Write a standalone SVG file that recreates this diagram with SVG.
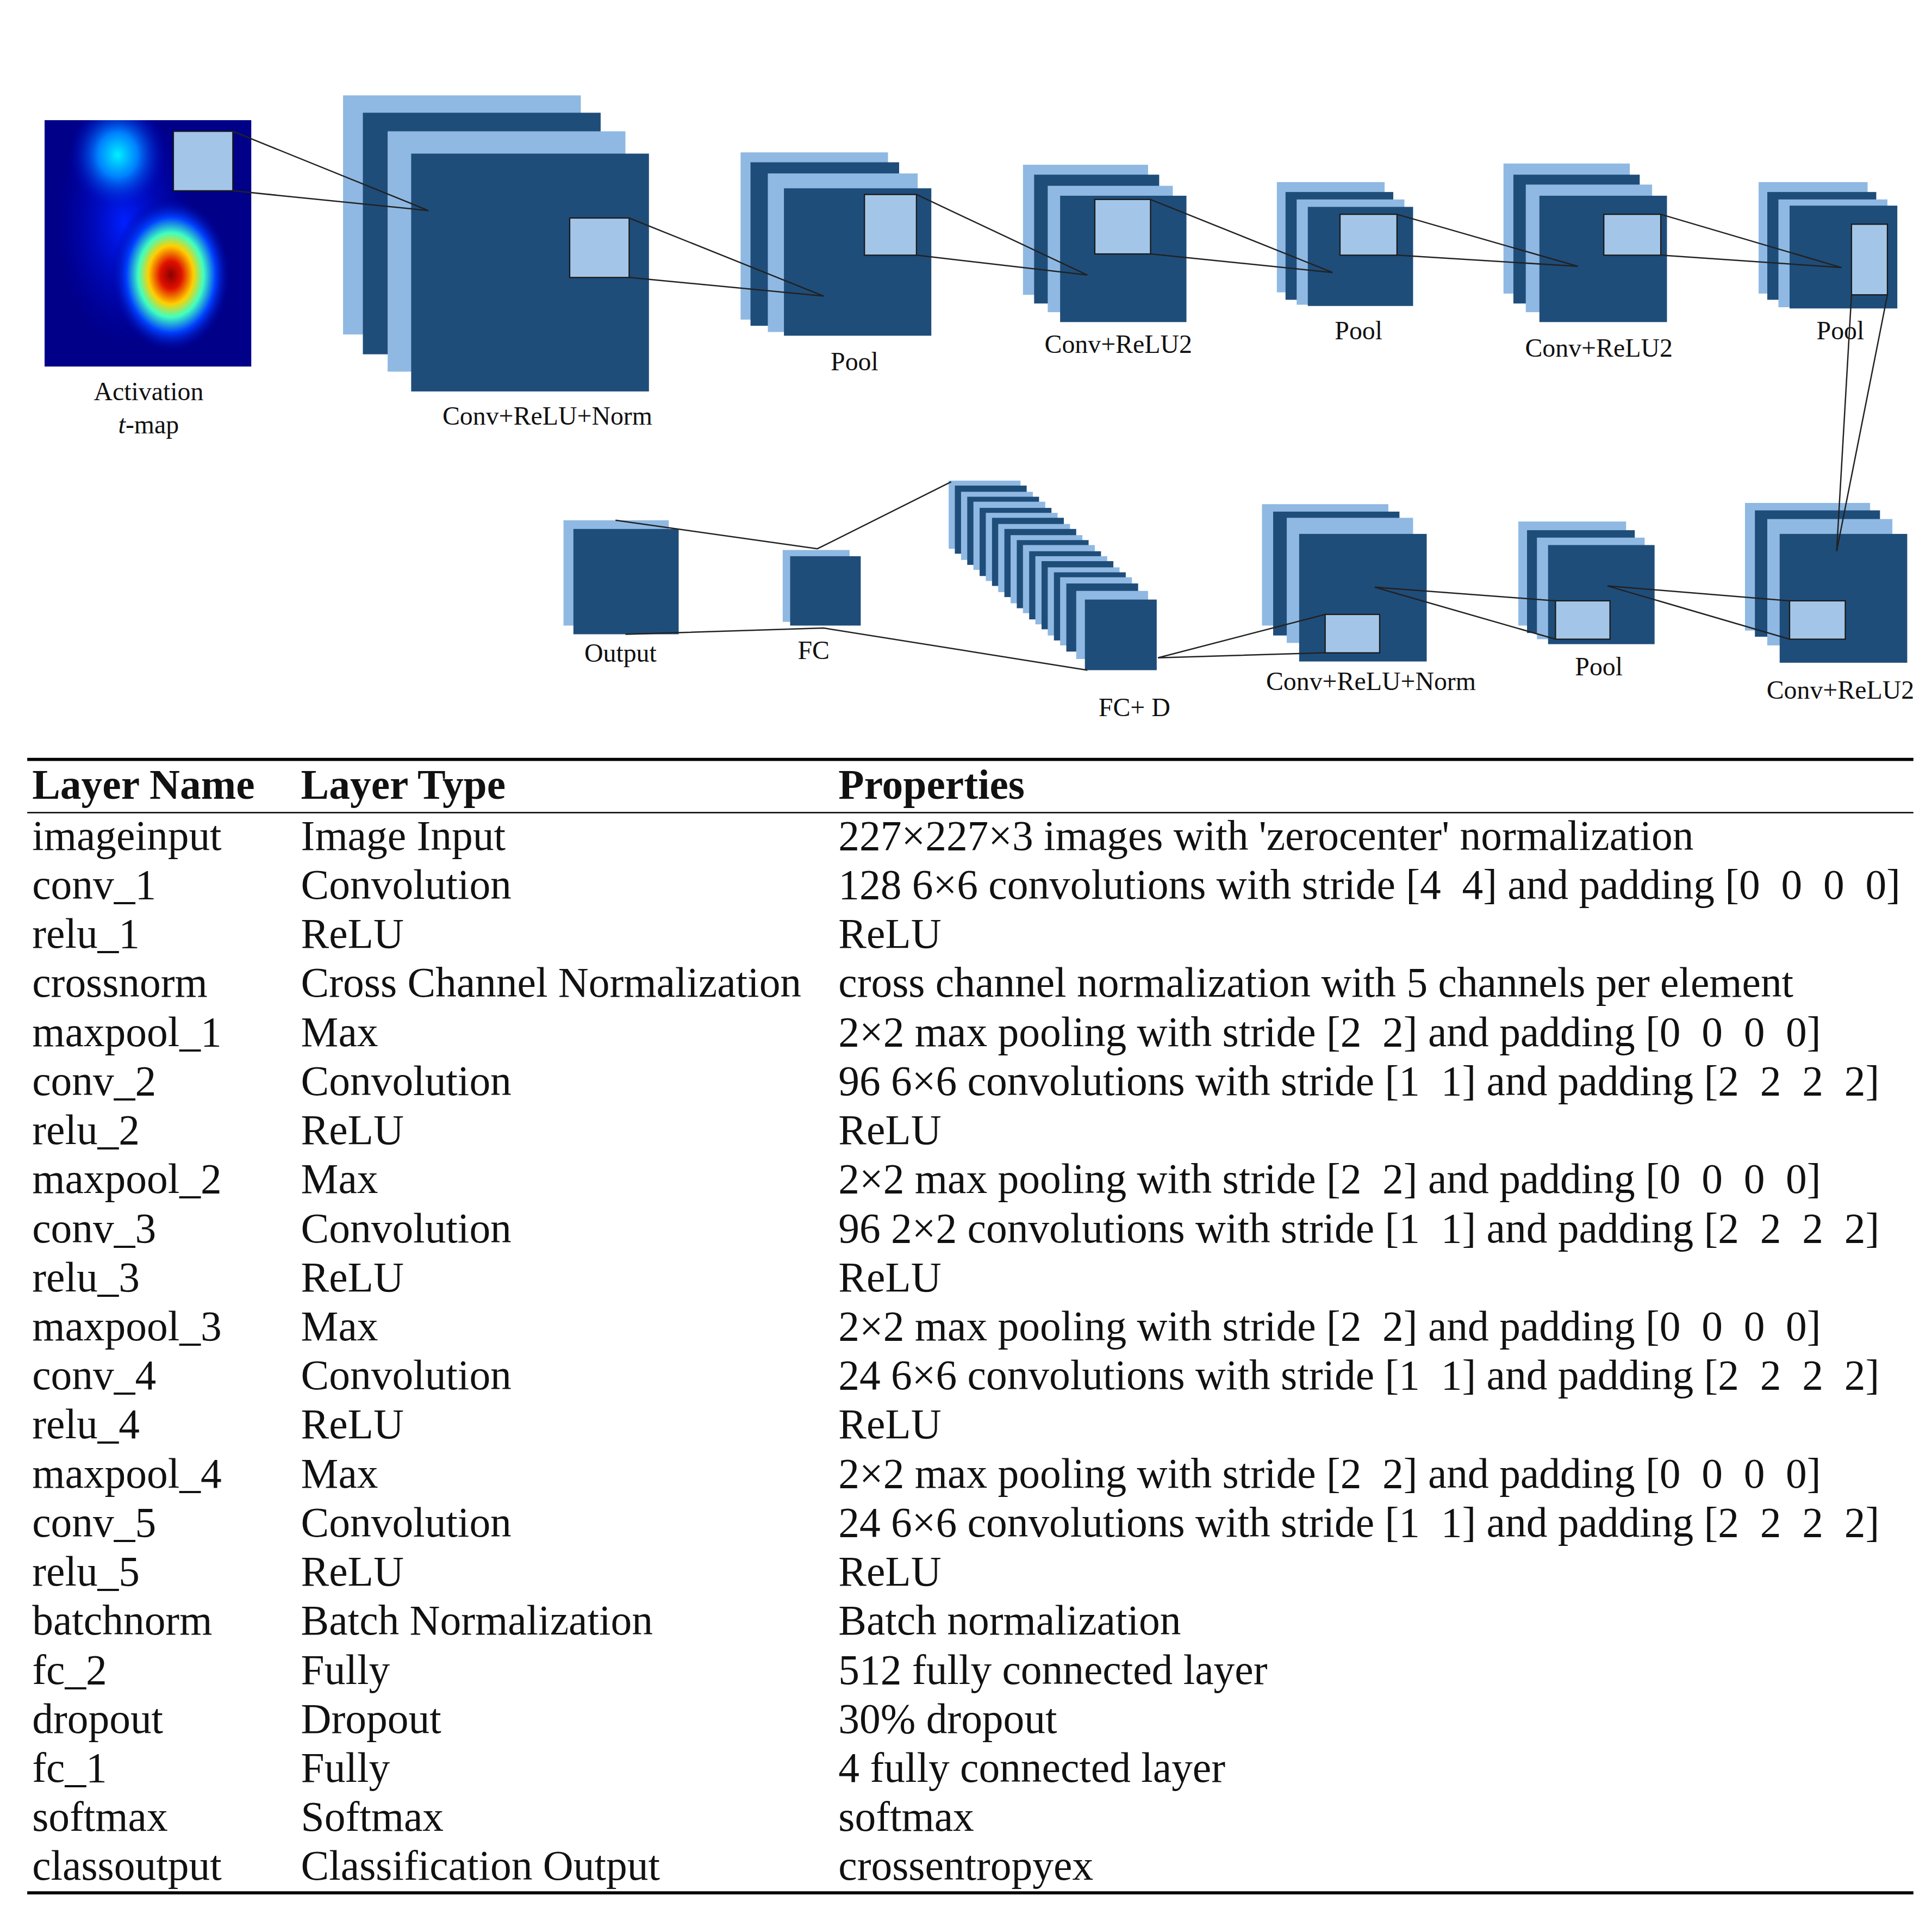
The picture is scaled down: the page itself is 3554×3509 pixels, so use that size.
<svg xmlns="http://www.w3.org/2000/svg" width="3554" height="3509" viewBox="0 0 3554 3509">
<style>
.l{fill:#8fb9e2}.d{fill:#1f4d7a}.sq{fill:#a3c6e8;stroke:#1a1a1a;stroke-width:1}
.c line,.c polyline{stroke:#222;stroke-width:1.1;fill:none}
.lb{font-family:"Liberation Serif",serif;font-size:21px;text-anchor:middle;fill:#111}
.t{font-family:"Liberation Serif",serif;font-size:34px;fill:#111;white-space:pre}
.h{font-weight:bold}
</style>
<defs>
<radialGradient id="hot" cx="0.5" cy="0.5" r="0.5">
<stop offset="0" stop-color="#8b0000"/><stop offset="0.18" stop-color="#e01000"/><stop offset="0.38" stop-color="#ffd000"/><stop offset="0.55" stop-color="#40ffc0"/><stop offset="0.75" stop-color="#0040ff"/><stop offset="1" stop-color="#0000a0" stop-opacity="0"/>
</radialGradient>
<radialGradient id="cy" cx="0.5" cy="0.5" r="0.5">
<stop offset="0" stop-color="#00f0ff"/><stop offset="0.4" stop-color="#0080ff"/><stop offset="1" stop-color="#0000c0" stop-opacity="0"/>
</radialGradient>
<radialGradient id="bl" cx="0.5" cy="0.5" r="0.5">
<stop offset="0" stop-color="#0020ff"/><stop offset="1" stop-color="#0000c0" stop-opacity="0"/>
</radialGradient>
<clipPath id="hm"><rect x="36" y="97" width="167" height="199"/></clipPath>
</defs>
<rect width="3554" height="3509" fill="#fff"/>
<g transform="scale(2.2782)">
<g id="tmap">
<g clip-path="url(#hm)">
<rect x="36" y="97" width="167" height="199" fill="#000088"/>
<ellipse cx="100" cy="180" rx="55" ry="100" fill="url(#bl)"/>
<ellipse cx="95" cy="125" rx="40" ry="45" fill="url(#cy)"/>
<ellipse cx="138" cy="222" rx="48" ry="62" fill="url(#hot)"/>
</g>
<rect class="sq" x="140" y="106" width="48" height="48"/>
<text class="lb" x="120" y="323">Activation</text>
<text class="lb" x="120" y="350"><tspan font-style="italic">t</tspan>-map</text>
</g>
<g id="conv1">
<rect class="l" x="277" y="77" width="192" height="193"/><rect class="d" x="293" y="91" width="192" height="195"/><rect class="l" x="313" y="106" width="192" height="194"/><rect class="d" x="332" y="124" width="192" height="192"/>
<rect class="sq" x="460" y="176" width="48" height="48"/>
<text class="lb" x="442" y="343">Conv+ReLU+Norm</text>
</g>
<g id="pool1">
<rect class="l" x="598" y="123" width="119" height="135"/><rect class="d" x="606" y="131" width="120" height="132"/><rect class="l" x="620" y="140" width="121" height="128"/><rect class="d" x="633" y="152" width="119" height="119"/>
<rect class="sq" x="698" y="157" width="42" height="49"/>
<text class="lb" x="690" y="299">Pool</text>
</g>
<g id="conv2">
<rect class="l" x="826" y="133" width="101" height="105"/><rect class="d" x="835" y="141" width="101" height="104"/><rect class="l" x="846" y="150" width="101" height="102"/><rect class="d" x="856" y="158" width="102" height="102"/>
<rect class="sq" x="884" y="161" width="45" height="44"/>
<text class="lb" x="903" y="285">Conv+ReLU2</text>
</g>
<g id="pool2">
<rect class="l" x="1031" y="147" width="87" height="89"/><rect class="d" x="1038" y="155" width="87" height="87"/><rect class="l" x="1047" y="161" width="87" height="85"/><rect class="d" x="1056" y="167" width="85" height="80"/>
<rect class="sq" x="1082" y="173" width="46" height="33"/>
<text class="lb" x="1097" y="274">Pool</text>
</g>
<g id="conv3">
<rect class="l" x="1214" y="132" width="102" height="105"/><rect class="d" x="1222" y="141" width="102" height="104"/><rect class="l" x="1232" y="149" width="102" height="103"/><rect class="d" x="1243" y="158" width="103" height="102"/>
<rect class="sq" x="1295" y="173" width="46" height="33"/>
<text class="lb" x="1291" y="288">Conv+ReLU2</text>
</g>
<g id="pool3">
<rect class="l" x="1420" y="147" width="88" height="90"/><rect class="d" x="1427" y="155" width="88" height="87"/><rect class="l" x="1436" y="161" width="88" height="87"/><rect class="d" x="1445" y="166" width="87" height="83"/>
<rect class="sq" x="1495" y="181" width="29" height="57"/>
<text class="lb" x="1486" y="274">Pool</text>
</g>
<g id="conv4">
<rect class="l" x="1409" y="406" width="101" height="103"/><rect class="d" x="1417" y="412" width="101" height="102"/><rect class="l" x="1427" y="419" width="101" height="102"/><rect class="d" x="1437" y="431" width="103" height="104"/>
<rect class="sq" x="1445" y="485" width="45" height="31"/>
<text class="lb" x="1486" y="564">Conv+ReLU2</text>
</g>
<g id="pool4">
<rect class="l" x="1226" y="421" width="87" height="84"/><rect class="d" x="1233" y="428" width="87" height="83"/><rect class="l" x="1241" y="434" width="87" height="82"/><rect class="d" x="1250" y="440" width="86" height="80"/>
<rect class="sq" x="1256" y="485" width="44" height="31"/>
<text class="lb" x="1291" y="545">Pool</text>
</g>
<g id="conv5">
<rect class="l" x="1019" y="407" width="102" height="98"/><rect class="d" x="1028" y="413" width="102" height="100"/><rect class="l" x="1039" y="418" width="102" height="101"/><rect class="d" x="1049" y="431" width="103" height="103"/>
<rect class="sq" x="1070" y="496" width="44" height="31"/>
<text class="lb" x="1107" y="557">Conv+ReLU+Norm</text>
</g>
<g id="fcd">
<rect class="l" x="766" y="388" width="58" height="55"/><rect class="d" x="771" y="392" width="58" height="55"/>
<rect class="l" x="776" y="397" width="58" height="55"/><rect class="d" x="781" y="401" width="58" height="55"/>
<rect class="l" x="786" y="405" width="58" height="55"/><rect class="d" x="791" y="410" width="58" height="55"/>
<rect class="l" x="796" y="414" width="58" height="55"/><rect class="d" x="801" y="418" width="58" height="55"/>
<rect class="l" x="806" y="423" width="58" height="55"/><rect class="d" x="811" y="427" width="58" height="55"/>
<rect class="l" x="816" y="432" width="58" height="55"/><rect class="d" x="821" y="436" width="58" height="55"/>
<rect class="l" x="826" y="440" width="58" height="55"/><rect class="d" x="831" y="445" width="58" height="55"/>
<rect class="l" x="836" y="449" width="58" height="55"/><rect class="d" x="841" y="453" width="58" height="55"/>
<rect class="l" x="846" y="458" width="58" height="55"/><rect class="d" x="851" y="462" width="58" height="55"/>
<rect class="l" x="856" y="466" width="58" height="55"/><rect class="d" x="861" y="471" width="58" height="55"/>
<rect class="l" x="869" y="477" width="58" height="55"/><rect class="d" x="876" y="484" width="58" height="57"/>
<text class="lb" x="916" y="578">FC+ D</text>
</g>
<g id="fc">
<rect class="l" x="632" y="444" width="54" height="58"/><rect class="d" x="638" y="449" width="57" height="56"/>
<text class="lb" x="657" y="532">FC</text>
</g>
<g id="output">
<rect class="l" x="455" y="420" width="85" height="85"/><rect class="d" x="463" y="427" width="85" height="85"/>
<text class="lb" x="501" y="534">Output</text>
</g>
<g class="c" id="connectors">
<polyline points="188,106 346,170 188,154"/>
<polyline points="508,176 665,239 508,224"/>
<polyline points="740,157 878,222 740,206"/>
<polyline points="929,161 1076,220 929,205"/>
<polyline points="1128,173 1274,215 1128,206"/>
<polyline points="1341,173 1487,216 1341,206"/>
<polyline points="1495,238 1483,445 1524,238"/>
<polyline points="1445,485 1298,473 1445,516"/>
<polyline points="1256,485 1110,474 1256,516"/>
<polyline points="1070,496 935,531 1070,527"/>
<polyline points="768,389 660,443 497,420"/>
<polyline points="878,541 665,507 505,512"/>
</g>
<g id="table">
<line x1="22" y1="613" x2="1545" y2="613" stroke="#000" stroke-width="2.5"/>
<line x1="22" y1="656" x2="1545" y2="656" stroke="#000" stroke-width="1.2"/>
<line x1="22" y1="1528" x2="1545" y2="1528" stroke="#000" stroke-width="2.5"/>
<g transform="translate(0,-3)">
<text class="t h" x="26" y="648">Layer Name</text><text class="t h" x="243" y="648">Layer Type</text><text class="t h" x="677" y="648">Properties</text>
<text class="t" x="26" y="689">imageinput</text><text class="t" x="243" y="689">Image Input</text><text class="t" x="677" y="689">227×227×3 images with 'zerocenter' normalization</text>
<text class="t" x="26" y="728.6">conv_1</text><text class="t" x="243" y="728.6">Convolution</text><text class="t" x="677" y="728.6">128 6×6 convolutions with stride [4  4] and padding [0  0  0  0]</text>
<text class="t" x="26" y="768.2">relu_1</text><text class="t" x="243" y="768.2">ReLU</text><text class="t" x="677" y="768.2">ReLU</text>
<text class="t" x="26" y="807.8">crossnorm</text><text class="t" x="243" y="807.8">Cross Channel Normalization</text><text class="t" x="677" y="807.8">cross channel normalization with 5 channels per element</text>
<text class="t" x="26" y="847.4">maxpool_1</text><text class="t" x="243" y="847.4">Max</text><text class="t" x="677" y="847.4">2×2 max pooling with stride [2  2] and padding [0  0  0  0]</text>
<text class="t" x="26" y="887">conv_2</text><text class="t" x="243" y="887">Convolution</text><text class="t" x="677" y="887">96 6×6 convolutions with stride [1  1] and padding [2  2  2  2]</text>
<text class="t" x="26" y="926.6">relu_2</text><text class="t" x="243" y="926.6">ReLU</text><text class="t" x="677" y="926.6">ReLU</text>
<text class="t" x="26" y="966.2">maxpool_2</text><text class="t" x="243" y="966.2">Max</text><text class="t" x="677" y="966.2">2×2 max pooling with stride [2  2] and padding [0  0  0  0]</text>
<text class="t" x="26" y="1005.8">conv_3</text><text class="t" x="243" y="1005.8">Convolution</text><text class="t" x="677" y="1005.8">96 2×2 convolutions with stride [1  1] and padding [2  2  2  2]</text>
<text class="t" x="26" y="1045.4">relu_3</text><text class="t" x="243" y="1045.4">ReLU</text><text class="t" x="677" y="1045.4">ReLU</text>
<text class="t" x="26" y="1085">maxpool_3</text><text class="t" x="243" y="1085">Max</text><text class="t" x="677" y="1085">2×2 max pooling with stride [2  2] and padding [0  0  0  0]</text>
<text class="t" x="26" y="1124.6">conv_4</text><text class="t" x="243" y="1124.6">Convolution</text><text class="t" x="677" y="1124.6">24 6×6 convolutions with stride [1  1] and padding [2  2  2  2]</text>
<text class="t" x="26" y="1164.2">relu_4</text><text class="t" x="243" y="1164.2">ReLU</text><text class="t" x="677" y="1164.2">ReLU</text>
<text class="t" x="26" y="1203.8">maxpool_4</text><text class="t" x="243" y="1203.8">Max</text><text class="t" x="677" y="1203.8">2×2 max pooling with stride [2  2] and padding [0  0  0  0]</text>
<text class="t" x="26" y="1243.4">conv_5</text><text class="t" x="243" y="1243.4">Convolution</text><text class="t" x="677" y="1243.4">24 6×6 convolutions with stride [1  1] and padding [2  2  2  2]</text>
<text class="t" x="26" y="1283">relu_5</text><text class="t" x="243" y="1283">ReLU</text><text class="t" x="677" y="1283">ReLU</text>
<text class="t" x="26" y="1322.6">batchnorm</text><text class="t" x="243" y="1322.6">Batch Normalization</text><text class="t" x="677" y="1322.6">Batch normalization</text>
<text class="t" x="26" y="1362.2">fc_2</text><text class="t" x="243" y="1362.2">Fully</text><text class="t" x="677" y="1362.2">512 fully connected layer</text>
<text class="t" x="26" y="1401.8">dropout</text><text class="t" x="243" y="1401.8">Dropout</text><text class="t" x="677" y="1401.8">30% dropout</text>
<text class="t" x="26" y="1441.4">fc_1</text><text class="t" x="243" y="1441.4">Fully</text><text class="t" x="677" y="1441.4">4 fully connected layer</text>
<text class="t" x="26" y="1481">softmax</text><text class="t" x="243" y="1481">Softmax</text><text class="t" x="677" y="1481">softmax</text>
<text class="t" x="26" y="1520.6">classoutput</text><text class="t" x="243" y="1520.6">Classification Output</text><text class="t" x="677" y="1520.6">crossentropyex</text>
</g>
</g>
</g>
</svg>
